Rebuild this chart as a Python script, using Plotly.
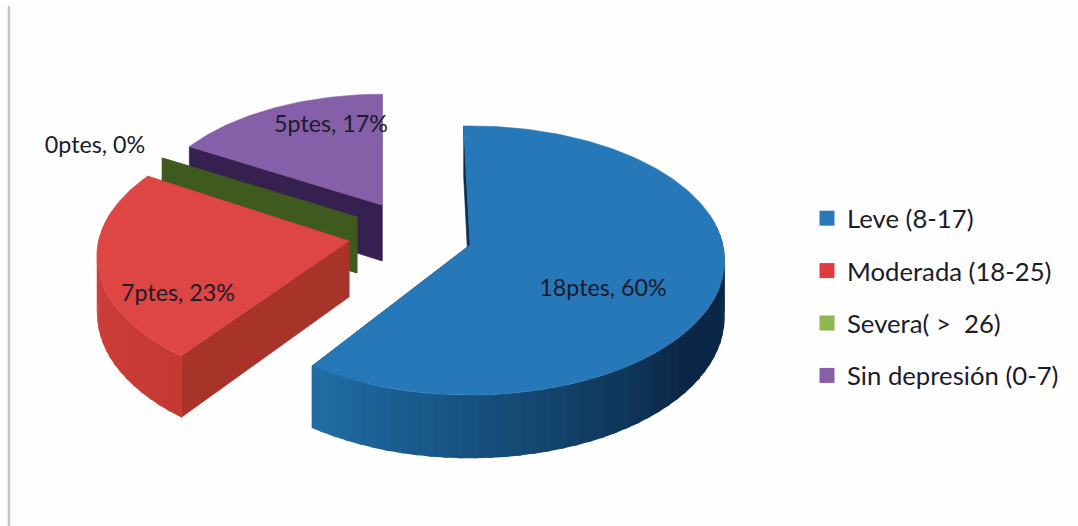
import math
import plotly.graph_objects as go

categories = ["Leve (8-17)", "Moderada (18-25)", "Severa( >  26)", "Sin depresión (0-7)"]
patients = [18, 7, 0, 5]
data_labels = ["18ptes, 60%", "7ptes, 23%", "0ptes, 0%", "5ptes, 17%"]

legend_colors = ["#2a7ab8", "#e03c40", "#8cb84c", "#8560a8"]
top_colors = ["#2778b8", "#dd4643", "#6f9a3a", "#8560a8"]
wall_colors = ["#0d2c4e", "#a83329", "#3e5a1f", "#35204f"]
rim_left = ["#1f6ea6", "#d6413d", "#3e5a1f", "#35204f"]
rim_right = ["#0b2747", "#c43a33", "#3e5a1f", "#35204f"]

# pixel layout of each exploded slice: apex x, apex y, radius factor, rotation
apex_x = [470, 349, 357, 382]
apex_y = [245, 241, 217, 205]
radius_k = [1.0, 0.99, 0.94, 0.93]
rotation = [-1.6, 1.5, 0.0, 0.0]
label_x = [603, 178, 95, 331]
label_y = [290, 295, 147, 126]

RX, RY, PERSP, DEPTH = 253.0, 132.8, 0.115, 56.0
TEXT = "#1b1b2b"
FONT = "Lato, Carlito, Calibri, sans-serif"


def project(i, deg):
    a = math.radians(deg + rotation[i])
    X, Y = math.sin(a), math.cos(a)
    w = 1 + PERSP * Y
    k = radius_k[i]
    return apex_x[i] + k * RX * X / w, apex_y[i] - k * RY * Y / w, w


def poly(xs, ys, color, lw=0.6):
    return go.Scatter(x=xs + xs[:1], y=ys + ys[:1], mode="lines", fill="toself", fillcolor=color,
                      line=dict(color=color, width=lw), hoverinfo="skip", showlegend=False)


def mix(c1, c2, t):
    a = [int(c1[j:j + 2], 16) for j in (1, 3, 5)]
    b = [int(c2[j:j + 2], 16) for j in (1, 3, 5)]
    return "#" + "".join(f"{round(p + (q - p) * t):02x}" for p, q in zip(a, b))


fig = go.Figure()
total = sum(patients)
starts = []
acc = 0.0
for v in patients:
    starts.append(acc)
    acc += 360.0 * v / total

for i in [3, 2, 1, 0]:
    s, e = starts[i], starts[i] + 360.0 * patients[i] / total
    ax, ay = apex_x[i], apex_y[i]
    # flat cut walls
    for ang in (s, e):
        px, py, w = project(i, ang)
        fig.add_trace(poly([px, ax, ax, px], [py, ay, ay + DEPTH, py + DEPTH / w], wall_colors[i]))
    if e <= s:
        continue
    # outer rim as shaded strips, each overlapping the next to hide seams
    n = max(2, int((e - s) / 3))
    for j in range(n):
        a1, a2 = s + (e - s) * j / n, s + (e - s) * (j + 1) / n
        if math.cos(math.radians((a1 + a2) / 2)) > 0.2:
            continue
        x1, y1, w1 = project(i, a1)
        x2, y2, w2 = project(i, min(e, a2 + 1.0))
        mid = (a1 + a2) / 2
        t = min(1.0, max(0.0, (e - mid) / 85.0)) if i == 0 else (e - mid) / (e - s)
        c = mix(rim_left[i], rim_right[i], t)
        fig.add_trace(poly([x1, x2, x2, x1], [y1, y2, y2 + DEPTH / w2, y1 + DEPTH / w1], c, 0))
    # top face
    m = max(8, int(e - s))
    pts = [project(i, s + (e - s) * j / m) for j in range(m + 1)]
    fig.add_trace(poly([ax] + [p[0] for p in pts], [ay] + [p[1] for p in pts], top_colors[i]))

# data labels
fig.add_trace(go.Scatter(x=label_x, y=label_y, mode="text", text=data_labels, textposition="middle center",
                         textfont=dict(family=FONT, size=23.3, color=TEXT), hoverinfo="skip", showlegend=False))

# legend entries
for i, name in enumerate(categories):
    fig.add_trace(go.Scatter(x=[None], y=[None], mode="markers", name=name, legendgroup=name,
                             marker=dict(symbol="square", size=15, color=legend_colors[i])))

fig.update_layout(
    width=1078, height=526, margin=dict(l=0, r=0, t=0, b=0),
    paper_bgcolor="#fefefe", plot_bgcolor="#fefefe",
    xaxis=dict(range=[0, 1078], visible=False, fixedrange=True),
    yaxis=dict(range=[526, 0], visible=False, fixedrange=True),
    legend=dict(x=807 / 1078, y=1 - 195 / 526, xanchor="left", yanchor="top", tracegroupgap=16,
                bgcolor="rgba(0,0,0,0)", font=dict(family=FONT, size=25.7, color=TEXT), itemwidth=30),
    shapes=[dict(type="line", xref="x", yref="y", x0=9, x1=9, y0=6, y1=526,
                 line=dict(color="#c4c4c4", width=2.5))],
    hovermode=False,
)
fig.write_html("out.html", post_script="document.body.style.margin='0';", config={"displayModeBar": False})
